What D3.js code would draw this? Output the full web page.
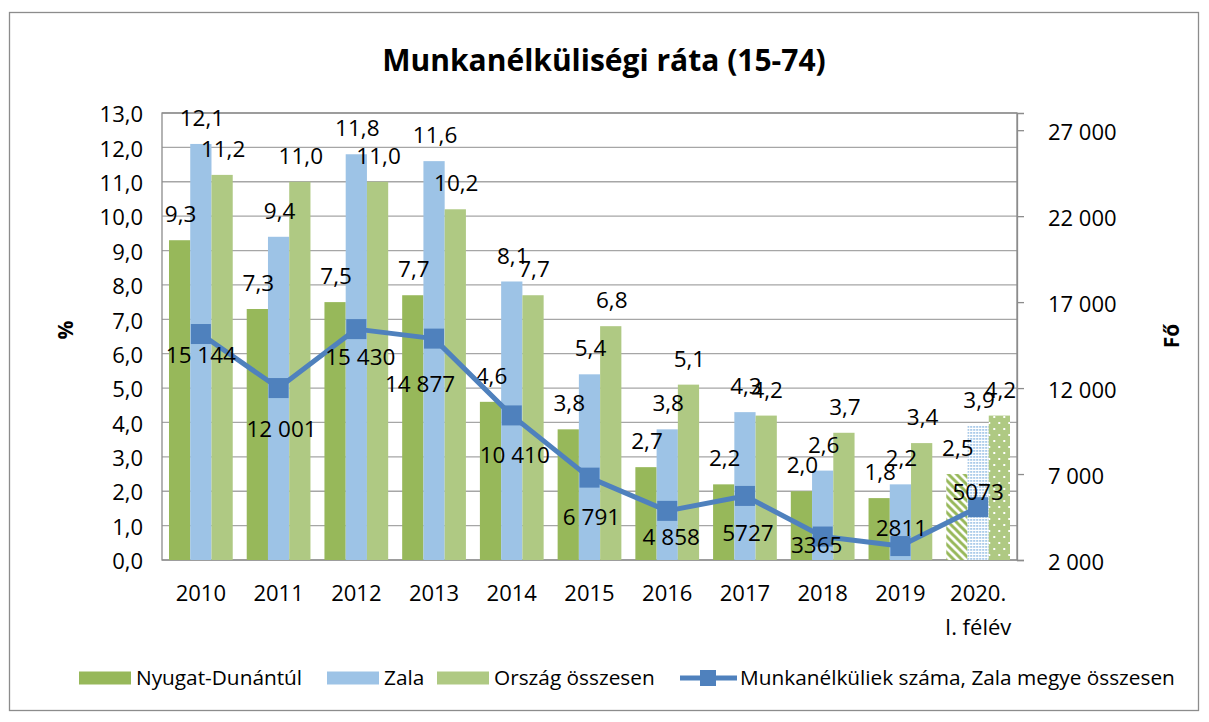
<!DOCTYPE html>
<html>
<head>
<meta charset="utf-8">
<script src="https://cdn.jsdelivr.net/npm/d3@7"></script>
<style>
  body { margin: 0; background: #fff; }
  svg text { font-family: "Open Sans", "Noto Sans", sans-serif; fill: #000; }
</style>
</head>
<body>
<svg id="chart" width="1209" height="722"></svg>
<script>
// values
const categories = ['2010', '2011', '2012', '2013', '2014', '2015', '2016', '2017', '2018', '2019', '2020.\nI. félév'];
const nyugatDunantul = [9.3, 7.3, 7.5, 7.7, 4.6, 3.8, 2.7, 2.2, 2.0, 1.8, 2.5];
const zala = [12.1, 9.4, 11.8, 11.6, 8.1, 5.4, 3.8, 4.3, 2.6, 2.2, 3.9];
const orszag = [11.2, 11.0, 11.0, 10.2, 7.7, 6.8, 5.1, 4.2, 3.7, 3.4, 4.2];
const munkanelkuliek = [15144, 12001, 15430, 14877, 10410, 6791, 4858, 5727, 3365, 2811, 5073];
const munkanelkuliekLabels = ['15 144', '12 001', '15 430', '14 877', '10 410', '6 791', '4 858', '5727', '3365', '2811', '5073'];
const leftTicks = [0, 1, 2, 3, 4, 5, 6, 7, 8, 9, 10, 11, 12, 13];
const rightTicks = [2000, 7000, 12000, 17000, 22000, 27000];

const seriesNames = ['Nyugat-Dunántúl', 'Zala', 'Ország összesen'];
const lineName = 'Munkanélküliek száma, Zala megye összesen';
const colors = { nyugat: '#97b85a', zala: '#9dc3e6', orszag: '#afc983', line: '#4f81bd' };

// label placement tweaks for the line labels (layout only)
const lineLabelDx = [0, 3, 4, -14, 3, 2, 4, 3, -6, 1, 0];
const lineLabelDy = [21, 41, 28, 45, 39, 39, 26, 37, 8, -18, -15];

const margin = { left: 162, right: 1017, top: 113, bottom: 560 };
const svg = d3.select('#chart');
const fmtPct = d => d.toFixed(1).replace('.', ',');
const fmtFo = d => d3.format(',')(d).replace(/,/g, ' ');

// outer border
svg.append('rect')
  .attr('x', 9.5).attr('y', 12.5).attr('width', 1189).attr('height', 698)
  .attr('fill', 'none').attr('stroke', '#8c8c8c').attr('stroke-width', 1.3);

// patterns for the last (half-year) category
const defs = svg.append('defs');
const hatch = defs.append('pattern').attr('id', 'hatch')
  .attr('patternUnits', 'userSpaceOnUse').attr('width', 8).attr('height', 8);
hatch.append('rect').attr('width', 8).attr('height', 8).attr('fill', '#fff');
hatch.append('path').attr('d', 'M0,0 L8,8 M-4,4 L4,12 M4,-4 L12,4')
  .attr('stroke', colors.nyugat).attr('stroke-width', 3);
const dots = defs.append('pattern').attr('id', 'dots')
  .attr('patternUnits', 'userSpaceOnUse').attr('width', 3).attr('height', 3);
dots.append('rect').attr('width', 3).attr('height', 3).attr('fill', '#fff');
dots.append('rect').attr('width', 1.8).attr('height', 1.8).attr('fill', colors.zala);
const spots = defs.append('pattern').attr('id', 'spots')
  .attr('patternUnits', 'userSpaceOnUse').attr('width', 10).attr('height', 12);
spots.append('rect').attr('width', 10).attr('height', 12).attr('fill', colors.orszag);
spots.append('rect').attr('x', 2).attr('y', 2).attr('width', 2).attr('height', 2).attr('fill', '#fff');
spots.append('rect').attr('x', 7).attr('y', 8).attr('width', 2).attr('height', 2).attr('fill', '#fff');

// scales
const x0 = d3.scaleBand().domain(categories).range([margin.left, margin.right])
  .paddingInner(0.18).paddingOuter(0.09);
const x1 = d3.scaleBand().domain(seriesNames).range([0, x0.bandwidth()]);
const yL = d3.scaleLinear().domain([0, 13]).range([margin.bottom, margin.top]);
const yR = d3.scaleLinear().domain([2000, 28000]).range([margin.bottom, margin.top]);
const xc = c => x0(c) + x0.bandwidth() / 2;

// gridlines
svg.append('g').selectAll('line').data(leftTicks).join('line')
  .attr('x1', margin.left).attr('x2', margin.right)
  .attr('y1', d => yL(d)).attr('y2', d => yL(d))
  .attr('stroke', '#a6a6a6').attr('stroke-width', 1.3);
svg.append('rect')
  .attr('x', margin.left).attr('y', margin.top)
  .attr('width', margin.right - margin.left).attr('height', margin.bottom - margin.top)
  .attr('fill', 'none').attr('stroke', '#8c8c8c').attr('stroke-width', 1.3);

// right axis
const rightAxis = svg.append('g')
  .attr('transform', `translate(${margin.right},0)`)
  .call(d3.axisRight(yR).tickValues(rightTicks).tickSize(7).tickPadding(24).tickFormat(fmtFo));
rightAxis.select('.domain').attr('stroke', '#8c8c8c').attr('stroke-width', 1.3);
rightAxis.selectAll('.tick line').attr('stroke', '#8c8c8c').attr('stroke-width', 1.3);
rightAxis.selectAll('.tick text').attr('font-size', 22).attr('dy', '0.42em')
  .style('font-family', '"Open Sans", sans-serif');

// left axis labels
svg.append('g').selectAll('text').data(leftTicks).join('text')
  .attr('x', 143).attr('y', d => yL(d)).attr('dy', '0.42em')
  .attr('text-anchor', 'end').attr('font-size', 22)
  .text(fmtPct);

// category labels
const catLabels = svg.append('g').selectAll('text').data(categories).join('text')
  .attr('x', d => xc(d)).attr('y', 601).attr('text-anchor', 'middle').attr('font-size', 22);
catLabels.selectAll('tspan').data(d => d.split('\n')).join('tspan')
  .attr('x', function () { return d3.select(this.parentNode).attr('x'); })
  .attr('dy', (d, i) => i === 0 ? 0 : 34)
  .text(d => d);

// bars
const rows = categories.map((c, i) => ({
  cat: c, idx: i,
  values: [
    { key: seriesNames[0], value: nyugatDunantul[i], fill: colors.nyugat, pattern: 'url(#hatch)' },
    { key: seriesNames[1], value: zala[i], fill: colors.zala, pattern: 'url(#dots)' },
    { key: seriesNames[2], value: orszag[i], fill: colors.orszag, pattern: 'url(#spots)' }
  ]
}));
const last = categories.length - 1;
const groups = svg.append('g').selectAll('g').data(rows).join('g')
  .attr('transform', d => `translate(${x0(d.cat)},0)`);
groups.selectAll('rect').data(d => d.values.map(v => ({ ...v, idx: d.idx }))).join('rect')
  .attr('x', d => x1(d.key))
  .attr('width', x1.bandwidth())
  .attr('y', d => yL(d.value))
  .attr('height', d => yL(0) - yL(d.value))
  .attr('fill', d => d.idx === last ? d.pattern : d.fill);

// line series
const linePts = categories.map((c, i) => ({ cat: c, value: munkanelkuliek[i], i }));
svg.append('path').datum(linePts)
  .attr('fill', 'none').attr('stroke', colors.line).attr('stroke-width', 5)
  .attr('stroke-linejoin', 'round')
  .attr('d', d3.line().x(d => xc(d.cat)).y(d => yR(d.value)));
svg.append('g').selectAll('rect').data(linePts).join('rect')
  .attr('x', d => xc(d.cat) - 10).attr('y', d => yR(d.value) - 10)
  .attr('width', 20).attr('height', 20).attr('fill', colors.line);

// bar labels
groups.selectAll('text').data(d => d.values).join('text')
  .attr('x', d => x1(d.key) + x1.bandwidth() / 2 + 1)
  .attr('y', d => yL(d.value) - 26).attr('dy', '0.36em')
  .attr('text-anchor', 'middle').attr('font-size', 22.5)
  .text(d => fmtPct(d.value));

// line labels
svg.append('g').selectAll('text').data(linePts).join('text')
  .attr('x', d => xc(d.cat) + lineLabelDx[d.i])
  .attr('y', d => yR(d.value) + lineLabelDy[d.i]).attr('dy', '0.36em')
  .attr('text-anchor', 'middle').attr('font-size', 22.5)
  .text(d => munkanelkuliekLabels[d.i]);

// title and axis titles
svg.append('text').attr('x', 604).attr('y', 60).attr('dy', '0.36em')
  .attr('text-anchor', 'middle').attr('font-size', 30).attr('font-weight', 'bold')
  .text('Munkanélküliségi ráta (15-74)');
svg.append('text').attr('transform', 'translate(65,330) rotate(-90)').attr('dy', '0.36em')
  .attr('text-anchor', 'middle').attr('font-size', 21).attr('font-weight', 'bold').text('%');
svg.append('text').attr('transform', 'translate(1171,336) rotate(-90)').attr('dy', '0.36em')
  .attr('text-anchor', 'middle').attr('font-size', 21).attr('font-weight', 'bold').text('Fő');

// legend
const legendY = 678;
const legendItems = [
  { name: seriesNames[0], fill: colors.nyugat, x: 79 },
  { name: seriesNames[1], fill: colors.zala, x: 327 },
  { name: seriesNames[2], fill: colors.orszag, x: 437 }
];
const legend = svg.append('g');
legendItems.forEach(it => {
  legend.append('rect').attr('x', it.x).attr('y', legendY - 6.5).attr('width', 52).attr('height', 13).attr('fill', it.fill);
  legend.append('text').attr('x', it.x + 57).attr('y', legendY).attr('dy', '0.36em')
    .attr('font-size', 20.8).text(it.name);
});
legend.append('line').attr('x1', 680).attr('x2', 737).attr('y1', legendY).attr('y2', legendY)
  .attr('stroke', colors.line).attr('stroke-width', 5);
legend.append('rect').attr('x', 700).attr('y', legendY - 8).attr('width', 16).attr('height', 16).attr('fill', colors.line);
legend.append('text').attr('x', 740).attr('y', legendY).attr('dy', '0.36em')
  .attr('font-size', 20.8).text(lineName);
</script>
</body>
</html>
